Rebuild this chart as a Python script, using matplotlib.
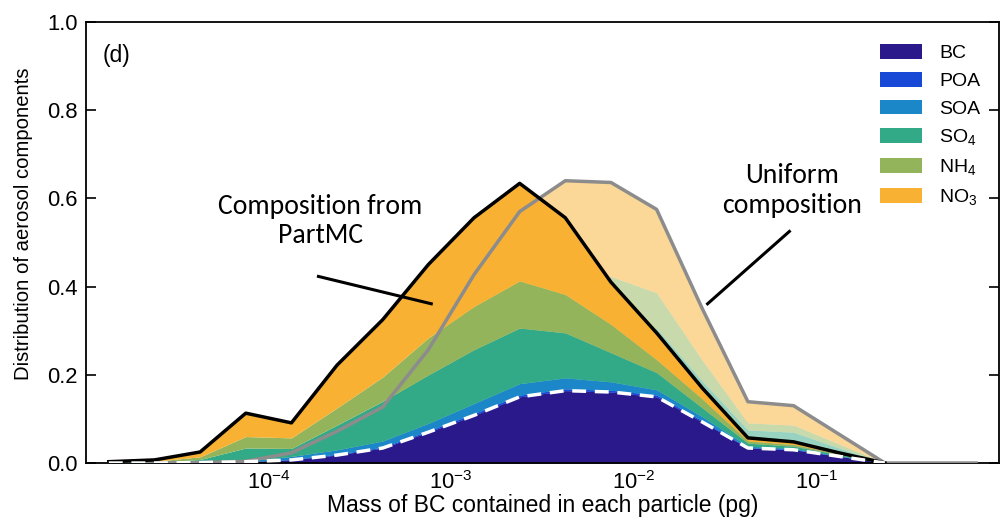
import numpy as np
import matplotlib
matplotlib.use("Agg")
import matplotlib.pyplot as plt
from matplotlib.patches import Patch

plt.rcParams['font.family'] = ['Liberation Sans', 'DejaVu Sans']
plt.rcParams['mathtext.fontset'] = 'custom'
plt.rcParams['mathtext.rm'] = 'Liberation Sans'
plt.rcParams['mathtext.it'] = 'Liberation Sans:italic'

# bin centres (log10 of BC mass, pg)
log_mass = [-4.875, -4.625, -4.375, -4.125, -3.875, -3.625, -3.375, -3.125, -2.875, -2.625,
            -2.375, -2.125, -1.875, -1.625, -1.375, -1.125, -0.875, -0.625, -0.375, -0.125]

species = ['BC', 'POA', 'SOA', 'SO$_4$', 'NH$_4$', 'NO$_3$']
colors = ['#29198b', '#1849d6', '#1b87c8', '#32a987', '#93b45a', '#f8b132']

# PartMC composition: cumulative tops of each stacked layer
partmc_bc  = [0.0, 0.0, 0.001, 0.003, 0.007, 0.018, 0.034, 0.070, 0.108, 0.150,
              0.164, 0.161, 0.150, 0.093, 0.034, 0.030, 0.015, 0.0, 0.0, 0.0]
partmc_poa = [0.0, 0.0, 0.001, 0.003, 0.008, 0.020, 0.036, 0.073, 0.112, 0.154,
              0.168, 0.165, 0.154, 0.096, 0.035, 0.031, 0.015, 0.0, 0.0, 0.0]
partmc_soa = [0.0, 0.001, 0.002, 0.005, 0.015, 0.030, 0.050, 0.090, 0.135, 0.180,
              0.193, 0.184, 0.166, 0.105, 0.038, 0.033, 0.016, 0.0, 0.0, 0.0]
partmc_so4 = [0.001, 0.002, 0.008, 0.034, 0.033, 0.086, 0.140, 0.200, 0.257, 0.306,
              0.295, 0.250, 0.205, 0.125, 0.045, 0.038, 0.019, 0.0, 0.0, 0.0]
partmc_nh4 = [0.002, 0.004, 0.014, 0.060, 0.057, 0.125, 0.195, 0.284, 0.355, 0.413,
              0.382, 0.314, 0.234, 0.145, 0.050, 0.042, 0.021, 0.0, 0.0, 0.0]
partmc_tot = [0.003, 0.007, 0.025, 0.113, 0.091, 0.222, 0.325, 0.450, 0.556, 0.634,
              0.556, 0.410, 0.295, 0.170, 0.057, 0.048, 0.023, 0.0, 0.0, 0.0]

# Uniform composition: cumulative tops of each stacked layer
unif_bc  = partmc_bc
unif_poa = [0.0, 0.0, 0.001, 0.003, 0.008, 0.020, 0.036, 0.073, 0.115, 0.154,
            0.173, 0.172, 0.155, 0.095, 0.038, 0.035, 0.018, 0.0, 0.0, 0.0]
unif_soa = [0.0, 0.0, 0.001, 0.003, 0.008, 0.022, 0.039, 0.080, 0.132, 0.177,
            0.198, 0.197, 0.178, 0.109, 0.043, 0.040, 0.020, 0.0, 0.0, 0.0]
unif_so4 = [0.0, 0.0, 0.001, 0.003, 0.012, 0.038, 0.067, 0.136, 0.226, 0.302,
            0.339, 0.337, 0.305, 0.186, 0.075, 0.070, 0.034, 0.0, 0.0, 0.0]
unif_nh4 = [0.0, 0.0, 0.001, 0.003, 0.015, 0.048, 0.084, 0.171, 0.284, 0.379,
            0.426, 0.423, 0.386, 0.233, 0.091, 0.086, 0.043, 0.0, 0.0, 0.0]
unif_tot = [0.0, 0.0, 0.001, 0.004, 0.023, 0.072, 0.127, 0.257, 0.427, 0.570,
            0.640, 0.636, 0.575, 0.350, 0.139, 0.130, 0.065, 0.0, 0.0, 0.0]

x = 10.0 ** np.array(log_mass)

fig = plt.figure(figsize=(10.0, 5.22), dpi=100)
ax = fig.add_axes([0.086, 0.113, 0.913, 0.845])

zero = np.zeros(len(x))
partmc = [np.array(v) for v in (partmc_bc, partmc_poa, partmc_soa, partmc_so4, partmc_nh4, partmc_tot)]
unif = [np.array(v) for v in (unif_bc, unif_poa, unif_soa, unif_so4, unif_nh4, unif_tot)]

# uniform layers (faded, behind)
lower = zero
for top, c in zip(unif, colors):
    ax.fill_between(x, lower, top, color=c, alpha=0.5, lw=0, zorder=1)
    lower = top
# PartMC layers (opaque)
lower = zero
for top, c in zip(partmc, colors):
    ax.fill_between(x, lower, top, color=c, lw=0, zorder=2)
    lower = top

ax.plot(x, unif[-1], color='#8c8c8c', lw=2.5, zorder=3)
ax.plot(x[:18], partmc[-1][:18], color='black', lw=2.5, zorder=4)
ax.plot(x[:18], partmc[0][:18], color='white', lw=2.5, ls=(0, (4, 2.5)), zorder=5)

ax.set_xscale('log')
ax.set_xlim(1e-5, 1.0)
ax.set_ylim(0, 1.0)
ax.set_xticks([1e-4, 1e-3, 1e-2, 1e-1])
ax.set_xticklabels(['$10^{-4}$', '$10^{-3}$', '$10^{-2}$', '$10^{-1}$'])
ax.xaxis.set_minor_locator(matplotlib.ticker.NullLocator())
ax.set_yticks([0.0, 0.2, 0.4, 0.6, 0.8, 1.0])
ax.set_yticklabels(['0.0', '0.2', '0.4', '0.6', '0.8', '1.0'])
ax.tick_params(axis='both', direction='in', length=7, width=1.2, labelsize=15.8, pad=6)
ax.tick_params(axis='x', pad=6)
ax.tick_params(axis='y', right=True)
for s in ax.spines.values():
    s.set_linewidth(1.3)

ax.set_xlabel('Mass of BC contained in each particle (pg)', fontsize=16.5, labelpad=0)
ax.set_ylabel('Distribution of aerosol components', fontsize=14.6)
ax.yaxis.set_label_coords(-0.058, 0.542)

ax.text(0.0186, 0.923, '(d)', transform=ax.transAxes, fontsize=16.5, va='center', ha='left')

ann_font = ['Carlito', 'Liberation Sans', 'DejaVu Sans']
ax.text(10 ** (-3.716), 0.549, 'Composition from\nPartMC', ha='center', va='center',
        fontsize=20, family=ann_font, linespacing=1.2)
ax.plot([10 ** (-3.727), 10 ** (-3.109)], [0.423, 0.361], color='black', lw=2.2, zorder=6)

ax.text(10 ** (-1.135), 0.618, 'Uniform\ncomposition', ha='center', va='center',
        fontsize=20, family=ann_font, linespacing=1.25)
ax.plot([10 ** (-1.596), 10 ** (-1.148)], [0.361, 0.525], color='black', lw=2.2, zorder=6)

handles = [Patch(facecolor=c, edgecolor='none') for c in colors]
ax.legend(handles, species, loc='upper right', bbox_to_anchor=(0.992, 0.977), frameon=False,
          fontsize=14, handlelength=2.2, handleheight=0.8, handletextpad=0.85,
          labelspacing=0.5, borderaxespad=0.2)

fig.savefig('out.png', dpi=100)
